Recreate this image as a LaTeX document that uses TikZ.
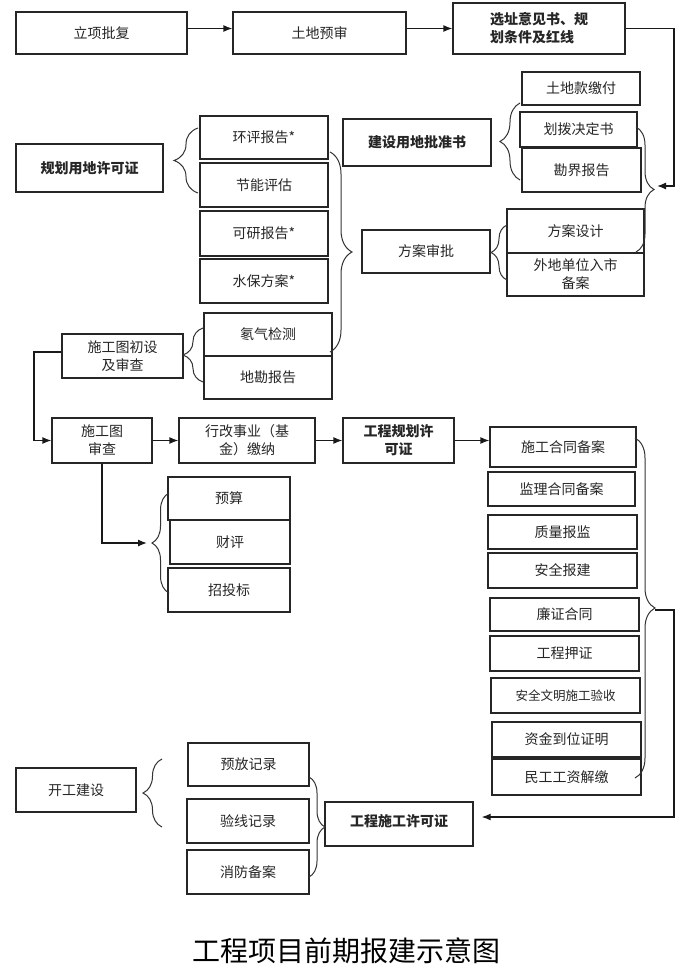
\documentclass[tikz,border=0pt]{standalone}
\usepackage{fontspec}
\setmainfont{Noto Sans CJK SC}
\usetikzlibrary{arrows.meta,decorations.pathreplacing,calc}
\tikzset{
 box/.style={draw=black!85,line width=1.3pt,inner sep=0pt,align=center,font=\fontsize{14}{18}\selectfont,text=black!85},
 bbox/.style={box,font=\fontsize{14}{18}\selectfont\bfseries},
 arr/.style={line width=1.3pt,-{Latex[length=9pt,width=7pt]},draw=black!90},
 ln/.style={line width=1.3pt,draw=black!90},
 brc/.style={decorate,decoration={brace,amplitude=#1},line width=1pt,draw=black!80},
}
\newcommand\bx[7][box]{%
 \node[#1,minimum width={(#5-#3)*1pt},minimum height={(#6-#4)*1pt}] (#2) at ({(#3+#5)/2},{(#4+#6)/2}) {#7};}
\begin{document}
\begin{tikzpicture}[x=1pt,y=-1pt]
\fill[white] (0,0) rectangle (700,979);
\useasboundingbox (0,0) rectangle (700,979);
% row 1
\bx{lx}{16}{12}{187}{54}{立项批复}
\bx{tdys}{233}{12}{406}{54}{土地预审}
\bx[bbox,align=left]{xz}{453}{3}{625}{54}{选址意见书、规\\划条件及红线}
% right group
\bx{tdk}{522}{72}{640}{105}{土地款缴付}
\bx{hb}{520}{112}{637}{147}{划拨决定书}
\bx{kj}{522}{148}{641}{192}{勘界报告}
\bx[bbox]{jsyd}{343}{119}{491}{166}{建设用地批准书}
\bx[bbox]{ghyd}{16}{144}{163}{192}{规划用地许可证}
\bx{hp}{200}{116}{328}{159}{环评报告*}
\bx{jn}{200}{163}{328}{207}{节能评估}
\bx{ky}{200}{211}{328}{256}{可研报告*}
\bx{sb}{200}{259}{328}{303}{水保方案*}
\bx{fasj}{507}{209}{644}{253}{方案设计}
\bx{wd}{507}{253}{644}{296}{外地单位入市\\备案}
\bx{fasp}{362}{230}{490}{273}{方案审批}
\bx{dq}{204}{313}{332}{356}{氡气检测}
\bx{dk}{204}{356}{332}{399}{地勘报告}
\bx{sgcs}{62}{334}{183}{378}{施工图初设\\及审查}
% row
\bx{sgsc}{52}{418}{152}{463}{施工图\\审查}
\bx{xzsy}{179}{418}{315}{463}{行改事业（基\\金）缴纳}
\bx[bbox]{gcgh}{343}{418}{454}{463}{工程规划许\\可证}
\bx{sght}{490}{427}{636}{467}{施工合同备案}
\bx{jlht}{488}{472}{635}{506}{监理合同备案}
\bx{zl}{488}{515}{637}{549}{质量报监}
\bx{aq}{488}{553}{637}{588}{安全报建}
\bx{lz}{490}{598}{639}{631}{廉证合同}
\bx{yz}{490}{636}{639}{671}{工程押证}
\bx[box,font=\fontsize{12.5}{15}\selectfont]{aqwm}{491}{678}{640}{713}{安全文明施工验收}
\bx{zj}{492}{722}{641}{757}{资金到位证明}
\bx{mg}{492}{759}{641}{795}{民工工资解缴}
\bx{ys}{168}{477}{290}{520}{预算}
\bx{cp}{170}{520}{290}{564}{财评}
\bx{ztb}{168}{568}{290}{612}{招投标}
% bottom
\bx{kg}{16}{768}{136}{812}{开工建设}
\bx{yf}{188}{743}{309}{786}{预放记录}
\bx{yx}{187}{799}{309}{843}{验线记录}
\bx{xf}{187}{850}{309}{894}{消防备案}
\bx[bbox]{gcsg}{325}{802}{473}{846}{\raisebox{7pt}{工程施工许可证}}
% braces
\draw[brc=24pt] (198,193) -- (198,128);
\draw[brc=20pt] (520,180) -- (520,103);
\draw[brc=18pt] (636,127) -- (636,252);
\draw[brc=22pt] (330,152) -- (330,352);
\draw[brc=16pt] (507,280) -- (507,225);
\draw[brc=20pt] (203,382) -- (203,328);
\draw[brc=17pt] (169,593) -- (169,493);
\draw[brc=20pt] (635,438) -- (635,778);
\draw[brc=19pt] (162,827) -- (162,759);
\draw[brc=16pt] (309,777) -- (309,877);
% brace tips
\coordinate (t3) at (657,186);
\coordinate (t7) at (147,543);
\coordinate (t8) at (655,610);
\coordinate (c1) at (674,186);
\coordinate (c2) at (34,352);
\coordinate (c8) at (674,610);
% connectors
\draw[arr] (lx.east |- xz.east) -- (tdys.west |- xz.east);
\draw[arr] (tdys.east |- xz.east) -- (xz.west);
\draw[arr] (xz.east) -| (c1) -- (t3);
\draw[arr] (sgcs.west |- c2) -- (c2) |- (sgsc.west);
\draw[arr] (sgsc.south) |- (t7);
\draw[arr] (sgsc.east) -- (xzsy.west);
\draw[arr] (xzsy.east) -- (gcgh.west);
\draw[arr] (gcgh.east) -- (gcgh.east -| sght.west);
\draw[arr,shorten >=8pt] (t8) -- (c8) |- ([yshift=7pt]gcsg.east);
% title
\node (title) at (346,951) {\fontsize{28}{30}\selectfont 工程项目前期报建示意图};
\end{tikzpicture}
\end{document}
